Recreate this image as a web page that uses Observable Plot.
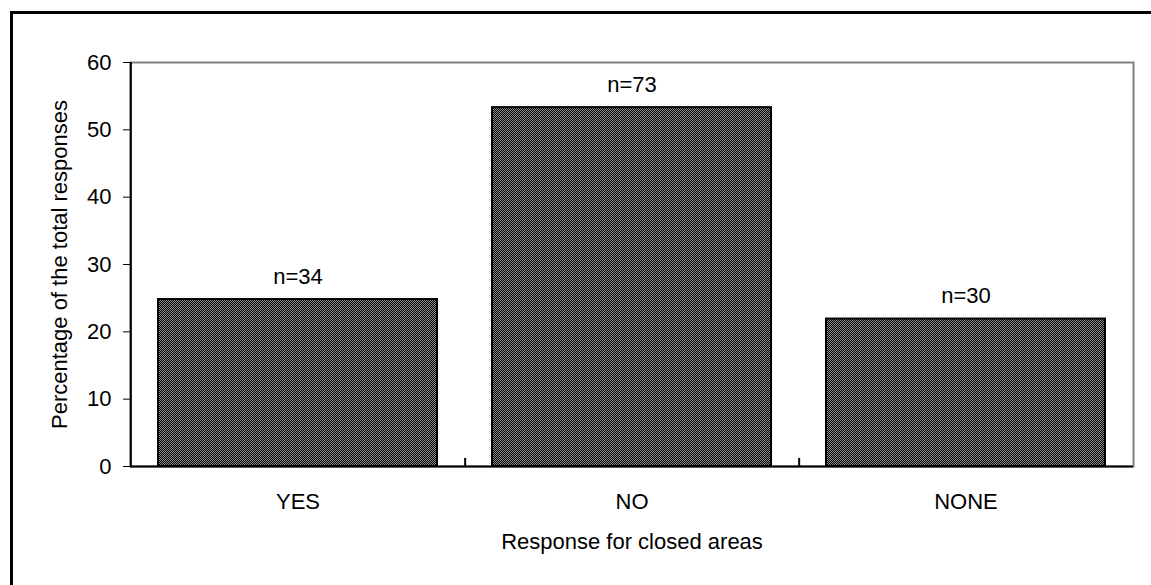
<!DOCTYPE html>
<html><head><meta charset="utf-8">
<script src="https://cdn.jsdelivr.net/npm/d3@7"></script>
<script src="https://cdn.jsdelivr.net/npm/@observablehq/plot@0.6"></script>
<style>
html,body{margin:0;padding:0;background:#fff;overflow:hidden;}
#wrap{position:relative;width:1151px;height:585px;overflow:hidden;}
#border{position:absolute;left:10px;top:11px;width:2000px;height:2000px;border-top:3px solid #000;border-left:3px solid #000;pointer-events:none}
</style></head><body>
<div id="wrap"><div id="chart"></div><div id="border"></div></div>
<script>
const categories = ["YES", "NO", "NONE"];
const counts = [34, 73, 30];
const percents = [24.8, 53.3, 21.9];
const yTicks = [0, 10, 20, 30, 40, 50, 60];
const xLabel = "Response for closed areas";
const yLabel = "Percentage of the total responses";

const data = categories.map((c, i) => ({category: c, pct: percents[i], n: counts[i]}));
const W = 1151, H = 585, mL = 130, mR = 18, mT = 62, mB = 119;
const step = (W - mL - mR) / categories.length;

const chart = Plot.plot({
  width: W, height: H,
  marginLeft: mL, marginRight: mR, marginTop: mT, marginBottom: mB,
  style: {fontFamily: "'Liberation Sans', Arial, sans-serif", fontSize: "22px", color: "#000", background: "transparent", overflow: "visible"},
  x: {domain: categories, paddingInner: 0.165, paddingOuter: 0.0825},
  y: {domain: [0, 60]},
  marks: [
    Plot.frame({stroke: "#808080", strokeWidth: 2}),
    Plot.barY(data, {x: "category", y: "pct", fill: "url(#hatch)", stroke: "#000", strokeWidth: 2}),
    Plot.ruleX(["YES"], {x: d => d, dx: -step / 2, stroke: "#000", strokeWidth: 2}),
    Plot.ruleX(categories.slice(0, -1), {x: d => d, y1: 0, y2: 1.2, dx: step / 2, stroke: "#000", strokeWidth: 2}),
    Plot.ruleY([0], {stroke: "#000", strokeWidth: 2}),
    Plot.axisY({ticks: yTicks, tickSize: 7, tickPadding: 12, label: yLabel, labelAnchor: "center", labelArrow: false, labelOffset: 79, fontSize: 22}),
    Plot.axisX({tickSize: 0, tickPadding: 27, label: xLabel, labelAnchor: "center", labelArrow: false, labelOffset: 82, fontSize: 22}),
    Plot.text(data, {x: "category", y: "pct", text: d => "n=" + d.n, dy: -23, fontSize: 22})
  ]
});

const defs = d3.select(chart).insert("defs", ":first-child");
const pat = defs.append("pattern").attr("id", "hatch").attr("patternUnits", "userSpaceOnUse")
  .attr("width", 2).attr("height", 2);
pat.append("rect").attr("width", 2).attr("height", 2).attr("fill", "#000");
pat.append("rect").attr("x", 0).attr("y", 0).attr("width", 1).attr("height", 1).attr("fill", "#8c8c8c");
pat.append("rect").attr("x", 1).attr("y", 1).attr("width", 1).attr("height", 1).attr("fill", "#8c8c8c");

document.getElementById("chart").appendChild(chart);
</script>
</body></html>
